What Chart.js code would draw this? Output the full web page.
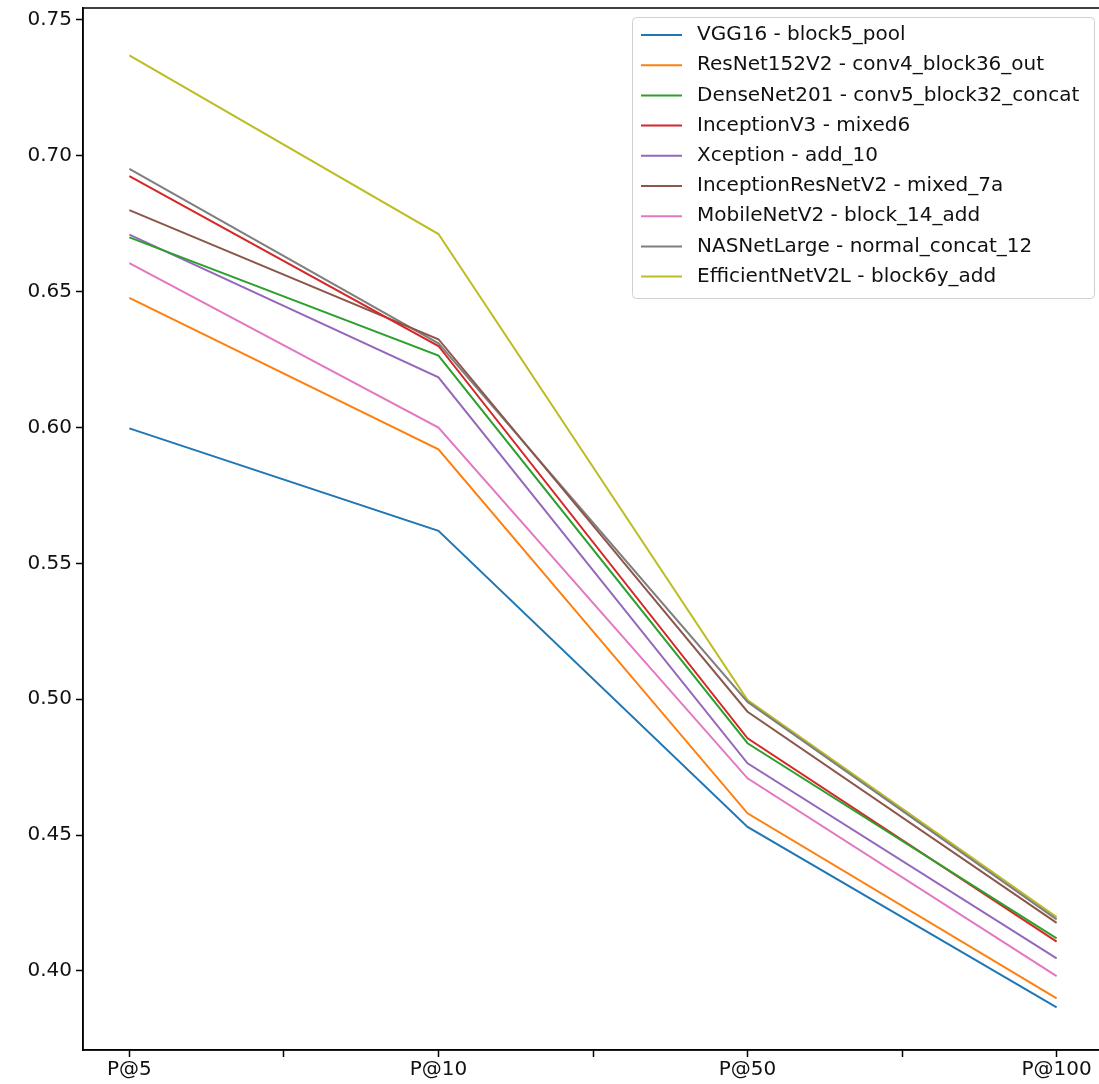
<!DOCTYPE html>
<html>
<head>
<meta charset="utf-8">
<script src="https://cdn.jsdelivr.net/npm/chart.js@4"></script>
<style>
  html, body { margin: 0; padding: 0; background: #fff; overflow: hidden; }
  #wrap { width: 1110px; height: 1084px; }
</style>
</head>
<body>
<div id="wrap"><canvas id="myChart" width="1110" height="1084"></canvas></div>
<script>
const categories = ["P@5", "P@10", "P@50", "P@100"];
const yTicks = [0.40, 0.45, 0.50, 0.55, 0.60, 0.65, 0.70, 0.75];
const xTicks = [0, 0.5, 1, 1.5, 2, 2.5, 3];

const modelNames = [
  "VGG16 - block5_pool",
  "ResNet152V2 - conv4_block36_out",
  "DenseNet201 - conv5_block32_concat",
  "InceptionV3 - mixed6",
  "Xception - add_10",
  "InceptionResNetV2 - mixed_7a",
  "MobileNetV2 - block_14_add",
  "NASNetLarge - normal_concat_12",
  "EfficientNetV2L - block6y_add",
];

const vgg16 = [0.5997, 0.562, 0.453, 0.3866];
const resnet152v2 = [0.6477, 0.592, 0.458, 0.3899];
const densenet201 = [0.670, 0.6265, 0.4838, 0.412];
const inceptionv3 = [0.6925, 0.630, 0.4856, 0.4108];
const xception = [0.671, 0.6185, 0.4764, 0.4046];
const inceptionresnetv2 = [0.680, 0.6325, 0.4954, 0.4177];
const mobilenetv2 = [0.6605, 0.600, 0.4709, 0.3981];
const nasnetlarge = [0.6952, 0.631, 0.4990, 0.419];
const efficientnetv2l = [0.737, 0.6712, 0.4997, 0.4198];

const seriesValues = [vgg16, resnet152v2, densenet201, inceptionv3, xception,
  inceptionresnetv2, mobilenetv2, nasnetlarge, efficientnetv2l];

const colors = ["#1f77b4", "#ff7f0e", "#2ca02c", "#d62728", "#9467bd",
  "#8c564b", "#e377c2", "#7f7f7f", "#bcbd22"];

const FONT = "DejaVu Sans";

const data = {
  datasets: seriesValues.map((vals, i) => ({
    label: modelNames[i],
    data: vals.map((v, j) => ({ x: j, y: v })),
    borderColor: colors[i],
    backgroundColor: colors[i],
    borderWidth: 2,
    pointRadius: 0,
    tension: 0,
  })),
};

// frame around the plot area + legend box in the upper right corner
const framePlugin = {
  id: "frame",
  afterDraw(chart) {
    const { ctx, chartArea: a } = chart;
    ctx.save();
    ctx.strokeStyle = "#000";
    ctx.lineWidth = 1.5;
    ctx.strokeRect(a.left, a.top, a.right - a.left, a.bottom - a.top);

    // legend
    const bx = 632, by = 17, bw = 462, bh = 281;
    ctx.fillStyle = "rgba(255,255,255,0.8)";
    ctx.strokeStyle = "#d0d0d0";
    ctx.lineWidth = 1;
    ctx.beginPath();
    ctx.roundRect(bx + 0.5, by + 0.5, bw, bh, 4);
    ctx.fill();
    ctx.stroke();

    ctx.font = "20px '" + FONT + "'";
    ctx.textBaseline = "middle";
    ctx.textAlign = "left";
    chart.data.datasets.forEach((ds, i) => {
      const y = 35 + i * 30.2;
      ctx.strokeStyle = ds.borderColor;
      ctx.lineWidth = 2;
      ctx.beginPath();
      ctx.moveTo(641, y);
      ctx.lineTo(682, y);
      ctx.stroke();
      ctx.fillStyle = "#111";
      ctx.fillText(ds.label, 697, y);
    });
    ctx.restore();
  },
};

const config = {
  type: "line",
  data: data,
  options: {
    responsive: false,
    animation: false,
    layout: { padding: { top: 8, right: 7, left: 0, bottom: 0 } },
    plugins: {
      legend: { display: false },
      tooltip: { enabled: false },
    },
    scales: {
      x: {
        type: "linear",
        min: -0.15,
        max: 3.15,
        afterBuildTicks(scale) {
          scale.ticks = xTicks.map((v) => ({ value: v }));
        },
        afterFit(scale) {
          scale.height = 34;
          scale.paddingLeft = 0;
          scale.paddingRight = 0;
        },
        grid: {
          drawOnChartArea: false,
          drawTicks: true,
          tickLength: 7,
          tickWidth: 1.5,
          tickColor: "#000",
        },
        border: { display: true, color: "#000", width: 1.5 },
        ticks: {
          autoSkip: false,
          maxRotation: 0,
          padding: 1,
          color: "#111",
          font: { family: FONT, size: 20 },
          callback: (v) => (Number.isInteger(v) ? categories[v] : ""),
        },
      },
      y: {
        min: 0.3709,
        max: 0.7544,
        afterBuildTicks(scale) {
          scale.ticks = yTicks.map((v) => ({ value: v }));
        },
        afterFit(scale) {
          scale.width = 83;
          scale.paddingTop = 0;
          scale.paddingBottom = 0;
        },
        grid: {
          drawOnChartArea: false,
          drawTicks: true,
          tickLength: 7,
          tickWidth: 1.5,
          tickColor: "#000",
        },
        border: { display: true, color: "#000", width: 1.5 },
        ticks: {
          padding: 4,
          color: "#111",
          font: { family: FONT, size: 20 },
          callback: (v) => v.toFixed(2),
        },
      },
    },
  },
  plugins: [framePlugin],
};

new Chart(document.getElementById("myChart"), config);
</script>
</body>
</html>
